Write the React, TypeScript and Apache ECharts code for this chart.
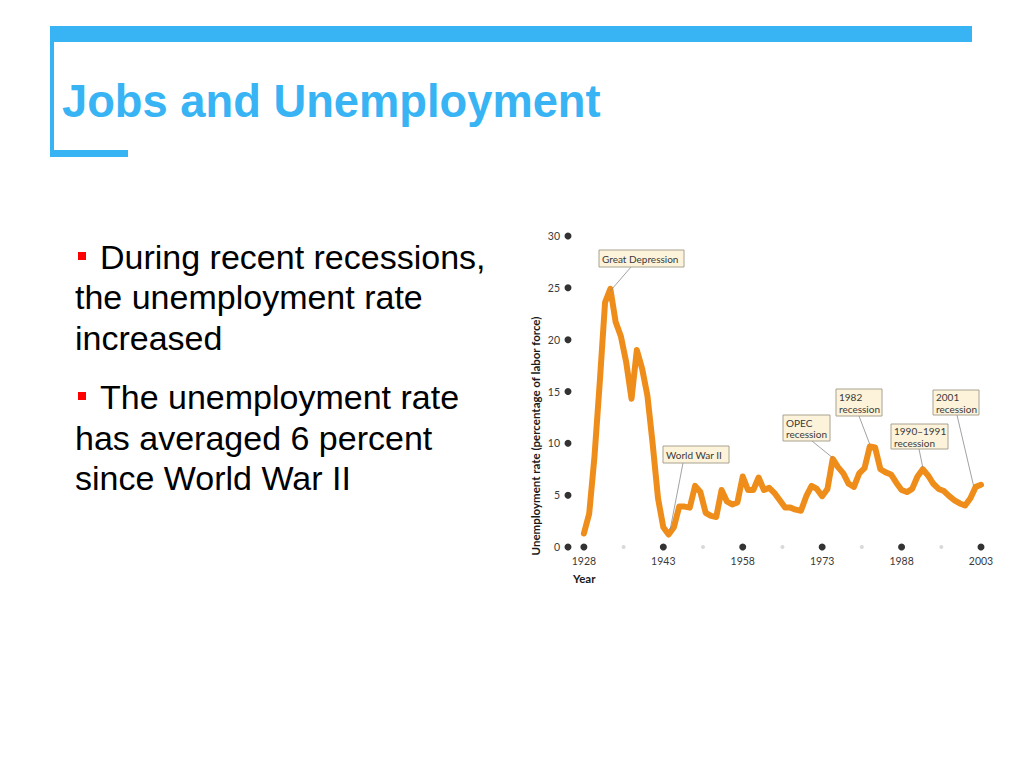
import React, { useEffect, useRef } from "react";
import * as echarts from "echarts";

const years = [
  1928, 1929, 1930, 1931, 1932, 1933, 1934, 1935, 1936, 1937, 1938, 1939, 1940,
  1941, 1942, 1943, 1944, 1945, 1946, 1947, 1948, 1949, 1950, 1951, 1952, 1953,
  1954, 1955, 1956, 1957, 1958, 1959, 1960, 1961, 1962, 1963, 1964, 1965, 1966,
  1967, 1968, 1969, 1970, 1971, 1972, 1973, 1974, 1975, 1976, 1977, 1978, 1979,
  1980, 1981, 1982, 1983, 1984, 1985, 1986, 1987, 1988, 1989, 1990, 1991, 1992,
  1993, 1994, 1995, 1996, 1997, 1998, 1999, 2000, 2001, 2002, 2003,
];
const rates = [
  1.3, 3.2, 8.7, 15.9, 23.6, 24.9, 21.7, 20.3, 17.8, 14.3, 19.0, 17.2, 14.6,
  9.9, 4.7, 1.9, 1.2, 1.9, 3.9, 3.9, 3.8, 5.9, 5.3, 3.3, 3.0, 2.9,
  5.5, 4.4, 4.1, 4.3, 6.8, 5.5, 5.5, 6.7, 5.5, 5.7, 5.2, 4.5, 3.8,
  3.8, 3.6, 3.5, 4.9, 5.9, 5.6, 4.9, 5.6, 8.5, 7.7, 7.1, 6.1, 5.8,
  7.1, 7.6, 9.7, 9.6, 7.5, 7.2, 7.0, 6.2, 5.5, 5.3, 5.6, 6.8, 7.5,
  6.9, 6.1, 5.6, 5.4, 4.9, 4.5, 4.2, 4.0, 4.7, 5.8, 6.0,
];
const xMajorTicks = [1928, 1943, 1958, 1973, 1988, 2003];
const xMinorTicks = [1935.5, 1950.5, 1965.5, 1980.5, 1995.5];
const yTicks = [0, 5, 10, 15, 20, 25, 30];
const yTickX = 1925;

const annotationTexts = [
  "Great Depression",
  "World War II",
  "OPEC\nrecession",
  "1982\nrecession",
  "1990–1991\nrecession",
  "2001\nrecession",
];
const annotationTargetYears = [1933, 1944.3, 1975, 1982, 1992, 2001.6];
const annotationTargetValues = [24.7, 1.7, 8.6, 9.9, 7.7, 5.9];
// layout of boxes: [x, y, w, h, leaderStartX, leaderStartY]
const annotationLayout = [
  [599, 250, 85, 17, 631, 267],
  [663, 446, 66, 17, 683, 463],
  [783, 415, 47, 26, 812, 441],
  [836, 389, 46, 27, 859, 416],
  [891, 424, 57, 25, 919, 449],
  [933, 390, 46, 25, 957, 415],
];

const titleText = "Jobs and Unemployment";
const bulletLines = [
  "During recent recessions,",
  "the unemployment rate",
  "increased",
  "The unemployment rate",
  "has averaged 6 percent",
  "since World War II",
];
const yAxisName = "Unemployment rate (percentage of labor force)";
const xAxisName = "Year";

const BLUE = "#38B4F4";
const ORANGE = "#EF8D1B";

export default function App() {
  const ref = useRef<HTMLDivElement>(null);
  useEffect(() => {
    if (!ref.current) return;
    const chart = echarts.init(ref.current, null, { renderer: "svg" });
    chart.setOption({
      animation: false,
      backgroundColor: "#ffffff",
      grid: { left: 568, right: 43, top: 236, bottom: 221, containLabel: false },
      xAxis: {
        type: "value",
        min: yTickX,
        max: 2003,
        axisLine: { show: false },
        axisTick: { show: false },
        splitLine: { show: false },
        axisLabel: {
          customValues: xMajorTicks,
          formatter: (v: number) => String(v),
          fontSize: 10.5,
          color: "#3a3a3a",
          fontFamily: "Lato",
          margin: 8,
        },
      },
      yAxis: {
        type: "value",
        min: 0,
        max: 30,
        interval: 5,
        axisLine: { show: false },
        axisTick: { show: false },
        splitLine: { show: false },
        axisLabel: { fontSize: 10.5, color: "#3a3a3a", fontFamily: "Lato", margin: 8 },
      },
      series: [
        {
          type: "line",
          data: years.map((y, i) => [y, rates[i]]),
          symbol: "none",
          lineStyle: { color: ORANGE, width: 6, cap: "round", join: "round" },
          z: 3,
          clip: false,
        },
        {
          type: "scatter",
          data: yTicks.map((v) => [yTickX, v]),
          symbolSize: 7,
          itemStyle: { color: "#000" },
          clip: false,
          z: 4,
        },
        {
          type: "scatter",
          data: xMajorTicks.map((v) => [v, 0]),
          symbolSize: 7,
          itemStyle: { color: "#000" },
          clip: false,
          z: 4,
        },
        {
          type: "scatter",
          data: xMinorTicks.map((v) => [v, 0]),
          symbolSize: 4,
          itemStyle: { color: "#cfcfcf" },
          clip: false,
          z: 4,
        },
      ],
    });

    const graphics: any[] = [];
    graphics.push({ type: "rect", shape: { x: 50, y: 26, width: 922, height: 16 }, style: { fill: BLUE } });
    graphics.push({ type: "rect", shape: { x: 50, y: 26, width: 4, height: 131 }, style: { fill: BLUE } });
    graphics.push({ type: "rect", shape: { x: 50, y: 150, width: 78, height: 7 }, style: { fill: BLUE } });
    graphics.push({
      type: "text",
      x: 62,
      y: 101,
      style: {
        text: titleText,
        fill: BLUE,
        fontSize: 45.3,
        fontWeight: "bold",
        fontFamily: "Liberation Sans",
        align: "left",
        verticalAlign: "middle",
      },
    });
    const lineYs = [257, 297, 338, 397, 438, 478];
    const lineXs = [100, 75, 75, 100, 75, 75];
    bulletLines.forEach((t, i) => {
      graphics.push({
        type: "text",
        x: lineXs[i],
        y: lineYs[i],
        style: {
          text: t,
          fill: "#000",
          fontSize: 34,
          fontFamily: "Liberation Sans",
          align: "left",
          verticalAlign: "middle",
        },
      });
    });
    graphics.push({ type: "rect", shape: { x: 78, y: 252, width: 8, height: 8 }, style: { fill: "#FF0000" } });
    graphics.push({ type: "rect", shape: { x: 78, y: 392, width: 8, height: 8 }, style: { fill: "#FF0000" } });

    graphics.push({
      type: "text",
      x: 535,
      y: 436,
      rotation: Math.PI / 2,
      style: {
        text: yAxisName,
        fill: "#1a1a1a",
        fontSize: 11.5,
        fontWeight: "bold",
        fontFamily: "Lato",
        align: "center",
        verticalAlign: "middle",
      },
    });
    graphics.push({
      type: "text",
      x: 573,
      y: 578,
      style: {
        text: xAxisName,
        fill: "#1a1a1a",
        fontSize: 11.5,
        fontWeight: "bold",
        fontFamily: "Lato",
        align: "left",
        verticalAlign: "middle",
      },
    });

    annotationTexts.forEach((t, i) => {
      const [bx, by, bw, bh, lx, ly] = annotationLayout[i];
      const p = chart.convertToPixel({ gridIndex: 0 }, [annotationTargetYears[i], annotationTargetValues[i]]) as number[];
      graphics.push({
        type: "line",
        shape: { x1: lx, y1: ly, x2: p[0], y2: p[1] },
        style: { stroke: "#8a8a8a", lineWidth: 0.8 },
        z: 10,
      });
      graphics.push({
        type: "rect",
        shape: { x: bx, y: by, width: bw, height: bh },
        style: { fill: "#FDF3DA", stroke: "#A8A290", lineWidth: 1 },
        z: 11,
      });
      graphics.push({
        type: "text",
        x: bx + 3,
        y: by + bh / 2 + 0.5,
        style: {
          text: t,
          fill: "#3a3a3a",
          fontSize: 10,
          lineHeight: 11.5,
          fontFamily: "Lato",
          align: "left",
          verticalAlign: "middle",
        },
        z: 12,
      });
    });

    chart.setOption({ graphic: graphics });
    return () => chart.dispose();
  }, []);
  return (
    <div
      ref={ref}
      style={{ position: "absolute", left: 0, top: 0, width: 1024, height: 768 }}
    />
  );
}
